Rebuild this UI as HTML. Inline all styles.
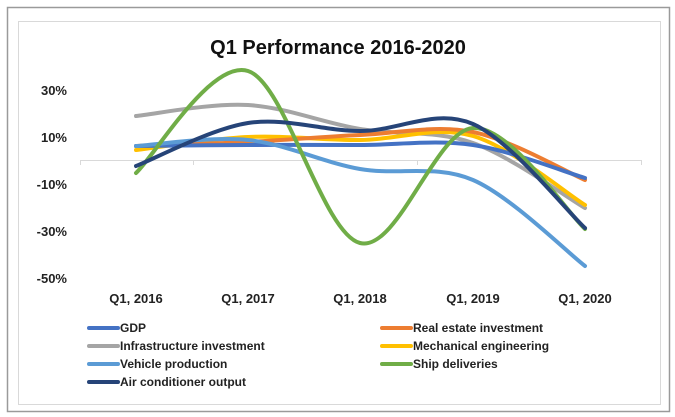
<!DOCTYPE html>
<html><head><meta charset="utf-8"><style>
html,body{margin:0;padding:0;background:#fff;}
svg{display:block;font-family:"Liberation Sans Narrow","Liberation Sans",sans-serif;}
</style></head><body>
<svg id="c" width="675" height="417" xmlns="http://www.w3.org/2000/svg">
<rect x="7.5" y="7.5" width="662" height="404" fill="#fff" stroke="#9a9a9a" stroke-width="1.5"/>
<rect x="18.5" y="21.5" width="642" height="383" fill="#fff" stroke="#d9d9d9"/>
<text x="338" y="54" text-anchor="middle" font-size="20" font-weight="bold" fill="#111" font-family="Liberation Sans, sans-serif">Q1 Performance 2016-2020</text>
<g font-size="13" font-weight="bold" fill="#222" text-anchor="end" font-family="Liberation Sans, sans-serif">
<text x="67" y="95">30%</text><text x="67" y="142">10%</text><text x="67" y="189">-10%</text><text x="67" y="236">-30%</text><text x="67" y="283">-50%</text>
</g>
<line x1="80" y1="160.5" x2="641" y2="160.5" stroke="#d9d9d9" stroke-width="1"/>
<g stroke="#d9d9d9"><line x1="80.5" y1="160" x2="80.5" y2="165"/><line x1="193.5" y1="160" x2="193.5" y2="165"/><line x1="417.5" y1="160" x2="417.5" y2="165"/><line x1="641.5" y1="160" x2="641.5" y2="165"/></g>
<g font-size="13" font-weight="bold" fill="#222" text-anchor="middle" font-family="Liberation Sans, sans-serif">
<text x="136" y="303">Q1, 2016</text><text x="248" y="303">Q1, 2017</text><text x="360" y="303">Q1, 2018</text><text x="473" y="303">Q1, 2019</text><text x="585" y="303">Q1, 2020</text>
</g>
<g id="series" fill="none" stroke-width="4" stroke-linecap="round"></g>
<g font-size="12" font-weight="bold" fill="#222" font-family="Liberation Sans, sans-serif">
<line x1="89" y1="328" x2="118" y2="328" stroke="#4472c4" stroke-width="4" stroke-linecap="round"/><text x="120" y="332">GDP</text>
<line x1="89" y1="346" x2="118" y2="346" stroke="#a5a5a5" stroke-width="4" stroke-linecap="round"/><text x="120" y="350">Infrastructure investment</text>
<line x1="89" y1="364" x2="118" y2="364" stroke="#5b9bd5" stroke-width="4" stroke-linecap="round"/><text x="120" y="368">Vehicle production</text>
<line x1="89" y1="382" x2="118" y2="382" stroke="#264478" stroke-width="4" stroke-linecap="round"/><text x="120" y="386">Air conditioner output</text>
<line x1="382" y1="328" x2="411" y2="328" stroke="#ed7d31" stroke-width="4" stroke-linecap="round"/><text x="413" y="332">Real estate investment</text>
<line x1="382" y1="346" x2="411" y2="346" stroke="#ffc000" stroke-width="4" stroke-linecap="round"/><text x="413" y="350">Mechanical engineering</text>
<line x1="382" y1="364" x2="411" y2="364" stroke="#70ad47" stroke-width="4" stroke-linecap="round"/><text x="413" y="368">Ship deliveries</text>
</g>
</svg>
<script>
var X=[136,248,360,473,585];
var S=[
["#a5a5a5",[116,105,129,143,208]],
["#ffc000",[150,137,140,136,205]],
["#ed7d31",[146,142,135,132,180]],
["#4472c4",[146,145,145,145,178]],
["#5b9bd5",[146,140,169,180,266]],
["#70ad47",[173,71,243,128,229]],
["#264478",[166,123,131,124,228]]
];
var g=document.getElementById("series"),t=1/6;
S.forEach(function(s){
 var y=s[1],d="M"+X[0]+","+y[0];
 for(var i=0;i<4;i++){
  var x0=X[Math.max(i-1,0)],y0=y[Math.max(i-1,0)],x3=X[Math.min(i+2,4)],y3=y[Math.min(i+2,4)];
  var c1x=X[i]+(X[i+1]-x0)*t,c1y=y[i]+(y[i+1]-y0)*t,c2x=X[i+1]-(x3-X[i])*t,c2y=y[i+1]-(y3-y[i])*t;
  d+=" C"+c1x+","+c1y+" "+c2x+","+c2y+" "+X[i+1]+","+y[i+1];
 }
 var p=document.createElementNS("http://www.w3.org/2000/svg","path");
 p.setAttribute("d",d);p.setAttribute("stroke",s[0]);g.appendChild(p);
});
</script>
</body></html>
